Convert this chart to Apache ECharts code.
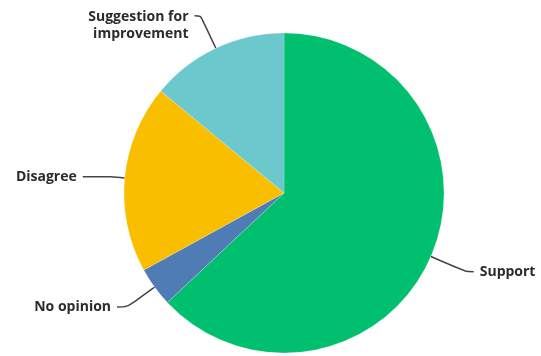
<!DOCTYPE html>
<html><head><meta charset="utf-8">
<script src="https://cdn.jsdelivr.net/npm/echarts@6/dist/echarts.min.js"></script>
<style>html,body{margin:0;padding:0;background:#fff}#c{width:541px;height:356px}</style>
</head><body><div id="c"></div>
<script>
const categories = ['Support', 'No opinion', 'Disagree', 'Suggestion for\nimprovement'];
const values = [63, 4, 19, 14];
const colors = ['#00BF6F', '#507CB6', '#F9BE00', '#6BC8CD'];
const lineLen = [[38, 8], [34, 10], [14, 28], [36, 6]];

const chart = echarts.init(document.getElementById('c'), null, {renderer: 'canvas'});
chart.setOption({
  animation: false,
  series: [{
    type: 'pie',
    center: [284, 193],
    radius: 160,
    startAngle: 90,
    clockwise: true,
    avoidLabelOverlap: false,
    itemStyle: {borderColor: 'rgba(255,255,255,0.4)', borderWidth: 0.5},
    label: {
      show: true, position: 'outside',
      color: '#2b2b2b', fontFamily: 'Open Sans', fontWeight: 'bold', fontSize: 14,
      lineHeight: 17, distanceToLabelLine: 6
    },
    labelLine: {show: true, smooth: 0.3, lineStyle: {color: '#444', width: 1.5}},
    labelLayout: function (p) {
      return p.dataIndex === 3 ? {dy: 10} : {};
    },
    data: categories.map((c, i) => ({
      name: c, value: values[i],
      itemStyle: {color: colors[i]},
      labelLine: {length: lineLen[i][0], length2: lineLen[i][1]},
      label: i === 3 ? {align: 'left'} : {}
    }))
  }]
});
</script></body></html>
